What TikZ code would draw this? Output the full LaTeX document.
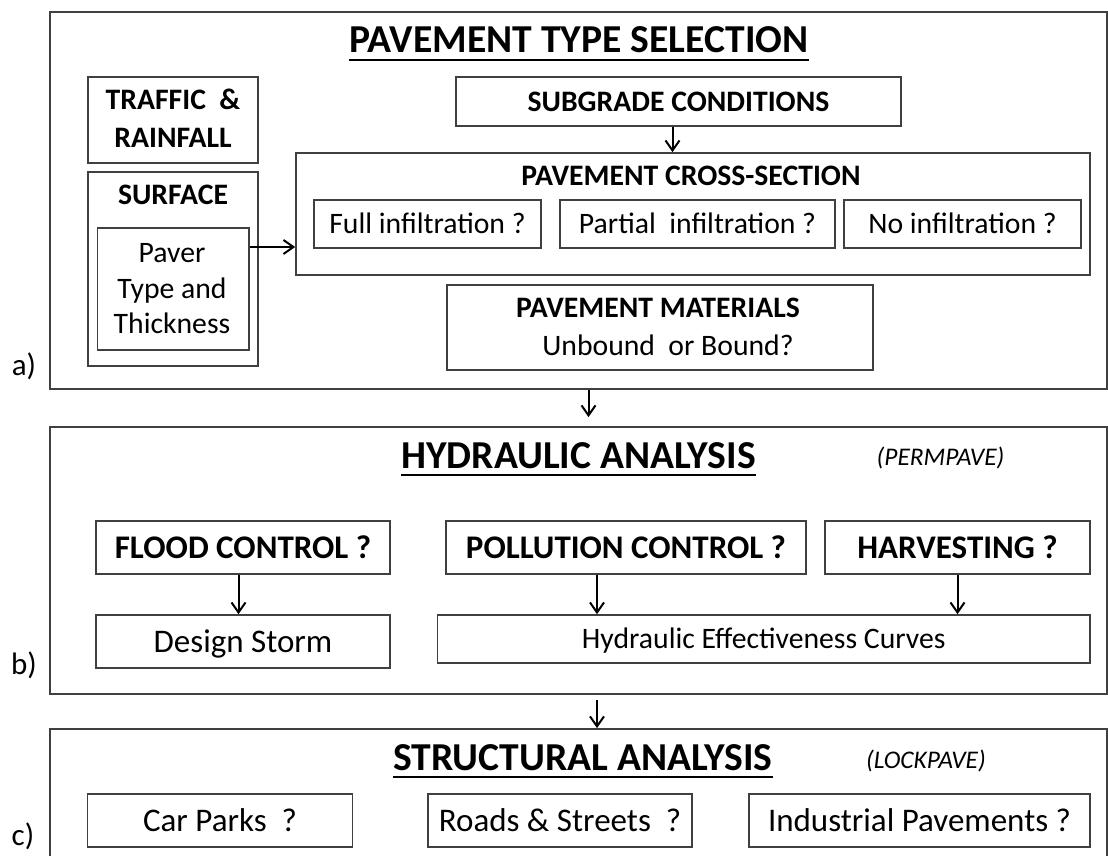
\documentclass[tikz,border=0pt]{standalone}
\usepackage{fontspec}
\setmainfont{Carlito}
\usetikzlibrary{arrows.meta, positioning, calc}

\begin{document}
\begin{tikzpicture}[
  x=1pt, y=-1pt,
  frame/.style = {draw=black!75, line width=1.8pt, minimum width=1057pt, inner sep=0pt},
  box/.style   = {draw=black!75, line width=1.6pt, inner sep=0pt},
  hd/.style    = {font=\fontsize{39.6}{48}\selectfont\bfseries, inner sep=0pt, anchor=base},
  tag/.style   = {font=\fontsize{25.4}{30}\selectfont\itshape, inner sep=0pt, anchor=base},
  lab/.style   = {font=\fontsize{31}{37}\selectfont, inner sep=0pt, anchor=base},
  txt/.style   = {font=\fontsize{29.7}{36}\selectfont, inner sep=0pt, anchor=base},
  txtb/.style  = {txt, font=\fontsize{29.7}{36}\selectfont\bfseries},
  sa/.style    = {font=\fontsize{29.7}{36}\selectfont, text height=19.1pt, text depth=0pt},
  sab/.style   = {sa, font=\fontsize{29.7}{36}\selectfont\bfseries},
  sb/.style    = {font=\fontsize{33}{40}\selectfont, text height=21.3pt, text depth=0pt},
  sbb/.style   = {sb, font=\fontsize{33}{40}\selectfont\bfseries},
  arr/.style   = {-{Straight Barb[length=10pt, width=14pt]}, line width=2pt},
  uline/.style = {line width=2.7pt},
]
\useasboundingbox (0,0) rectangle (1108,856);
\fill[white] (0,0) rectangle (1108,856);
\clip (0,0) rectangle (1108,856);

% ── Three stage frames ───────────────────────────────────────────────────────
\node[frame, minimum height=377pt] (fa) at (578.5,200.5) {};
\node[frame, minimum height=267pt] (fb) at (578.5,560.5) {};
\node[frame, minimum height=171pt] (fc) at (578.5,814.5) {};

\node[lab] (la) at (24,375) {a)};
\node[lab] (lb) at (24,674) {b)};
\node[lab] (lc) at (23,845) {c)};

% ── a) Pavement type selection ───────────────────────────────────────────────
\node[hd] (ttla) at (579,53) {PAVEMENT TYPE SELECTION};
\draw[uline] ([yshift=-7pt]ttla.base west) -- ([yshift=-7pt]ttla.base east);

\node[box, minimum width=170pt, minimum height=86pt] (traffic) at (173,120) {};
\node[txtb] (traffic1) at (173,110) {TRAFFIC\ \ \&};
\node[txtb] (traffic2) at (173,147) {RAINFALL};

\node[box, minimum width=170pt, minimum height=194pt] (surf) at (173,269) {};
\node[txtb] (surft) at (173,204) {SURFACE};
\node[box, minimum width=151.5pt, minimum height=122pt] (paver) at (173.25,289) {};
\node[txt] (paver1) at (172,262) {Paver};
\node[txt] (paver2) at (172,298) {Type and};
\node[txt] (paver3) at (172,333) {Thickness};

\node[box, sab, minimum width=445pt, minimum height=49pt] (subgr) at (678.5,101.5) {SUBGRADE CONDITIONS};

\node[box, minimum width=794pt, minimum height=122pt] (cross) at (693,214) {};
\node[txtb] (crosst) at (691,185) {PAVEMENT CROSS-SECTION};
\node[box, sa, minimum width=227pt, minimum height=48pt] (full) at (427.5,224) {Full infiltration ?};
\node[box, sa, minimum width=275pt, minimum height=48pt] (part) at (697.5,224) {Partial\ \ infiltration ?};
\node[box, sa, minimum width=237pt, minimum height=48pt] (none) at (962.5,224) {No infiltration ?};

\node[box, minimum width=426pt, minimum height=85pt] (mat) at (660,327.5) {};
\node[txtb] (mat1) at (658,317) {PAVEMENT MATERIALS};
\node[txt] (mat2) at (668,355) {Unbound\ \ or Bound?};

\coordinate (sg) at ([xshift=-6pt]subgr.south);
\draw[arr] (sg) -- (sg |- cross.north);
\coordinate (pv) at ([yshift=42pt]paver.east);
\draw[arr] (pv) -- (pv -| cross.west);
\coordinate (ab) at ([xshift=10pt]fa.south);
\draw[arr, shorten >=9pt] (ab) -- (ab |- fb.north);

% ── b) Hydraulic analysis ────────────────────────────────────────────────────
\node[hd] (ttlb) at (578.5,468) {HYDRAULIC ANALYSIS};
\draw[uline] ([yshift=-7pt]ttlb.base west) -- ([yshift=-7pt]ttlb.base east);
\node[tag] (perm) at (940.5,465) {(PERMPAVE)};

\node[box, sbb, minimum width=294pt, minimum height=53pt] (flood) at (243,547.5) {FLOOD CONTROL ?};
\node[box, sb,  minimum width=294pt, minimum height=53pt] (storm) at (243,641.5) {Design Storm};
\node[box, sbb, minimum width=360pt, minimum height=53pt] (poll)  at (626,547.5) {POLLUTION CONTROL ?};
\node[box, sbb, minimum width=265pt, minimum height=53pt] (harv)  at (957.5,547.5) {HARVESTING ?};
\node[box, sa,  minimum width=652.5pt, minimum height=48pt] (curves) at (763.75,639) {Hydraulic Effectiveness Curves};

\coordinate (fl) at ([xshift=-4.5pt]flood.south);
\draw[arr] (fl) -- (fl |- storm.north);
\coordinate (pl) at ([xshift=-29pt]poll.south);
\draw[arr] (pl) -- (pl |- curves.north);
\draw[arr] (harv.south) -- (harv.south |- curves.north);
\coordinate (bc) at ([xshift=18.5pt]fb.south);
\draw[arr, shorten <=5pt] (bc) -- (bc |- fc.north);

% ── c) Structural analysis ───────────────────────────────────────────────────
\node[hd] (ttlc) at (583,770) {STRUCTURAL ANALYSIS};
\draw[uline] ([yshift=-7pt]ttlc.base west) -- ([yshift=-7pt]ttlc.base east);
\node[tag] (lock) at (926,768) {(LOCKPAVE)};

\node[box, sb, minimum width=265pt, minimum height=53pt] (cars)  at (220,820.5) {Car Parks\ \ ?};
\node[box, sb, minimum width=264pt, minimum height=53pt] (roads) at (560,820.5) {Roads \& Streets\ \ ?};
\node[box, sb, minimum width=341pt, minimum height=53pt] (indus) at (919.5,820.5) {Industrial Pavements ?};
\end{tikzpicture}
\end{document}
